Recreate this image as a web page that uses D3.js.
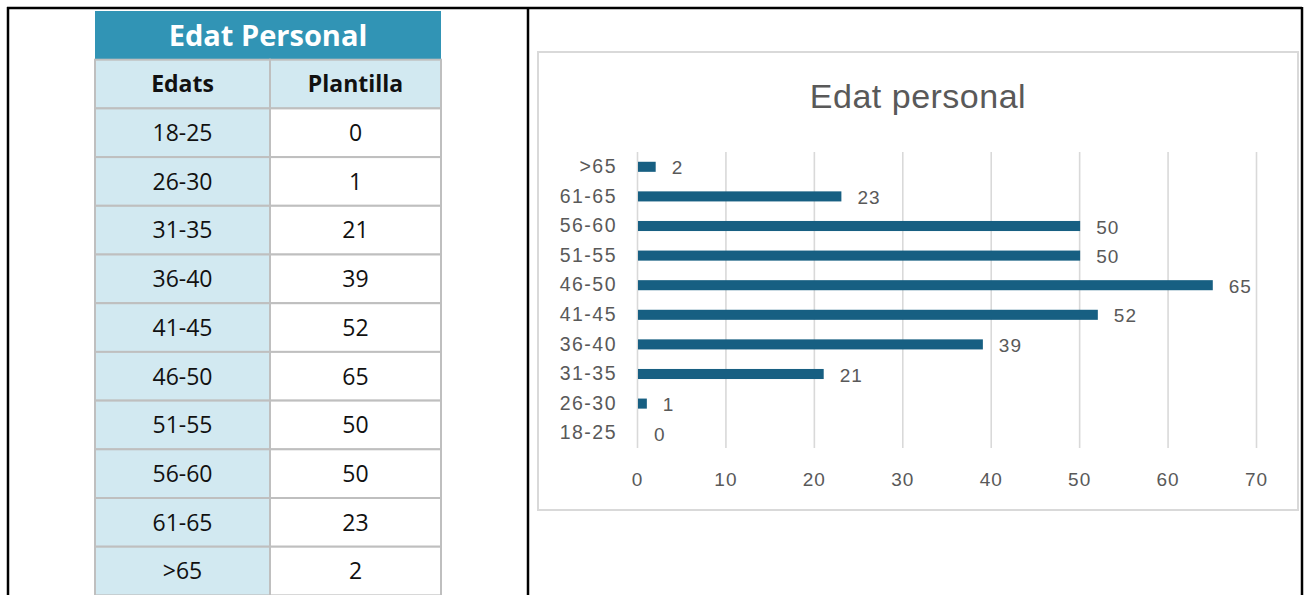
<!DOCTYPE html>
<html>
<head>
<meta charset="utf-8">
<script src="https://cdn.jsdelivr.net/npm/d3@7"></script>
<style>
  body { margin: 0; background: #fff; }
  svg { display: block; }
</style>
</head>
<body>
<div id="page"></div>
<script>
var ages = ['18-25', '26-30', '31-35', '36-40', '41-45', '46-50', '51-55', '56-60', '61-65', '>65'];
var staff = [0, 1, 21, 39, 52, 65, 50, 50, 23, 2];
var xTicks = [0, 10, 20, 30, 40, 50, 60, 70];
var tableTitle = 'Edat Personal';
var tableHeads = ['Edats', 'Plantilla'];
var chartTitle = 'Edat personal';

var width = 1306, height = 595;
var svg = d3.select('#page').append('svg')
  .attr('width', width)
  .attr('height', height);

// outer frame of the two cells
var frame = svg.append('g')
  .attr('fill', 'none')
  .attr('stroke', '#000')
  .attr('stroke-width', 2.5);
frame.append('line').attr('x1', 7).attr('x2', 1302).attr('y1', 8).attr('y2', 8);
frame.append('line').attr('x1', 8).attr('x2', 8).attr('y1', 7).attr('y2', 595);
frame.append('line').attr('x1', 528).attr('x2', 528).attr('y1', 7).attr('y2', 595);
frame.append('line').attr('x1', 1302).attr('x2', 1302).attr('y1', 7).attr('y2', 595);

// ---- table ----
var tbl = svg.append('g').attr('font-family', '"Open Sans", "Noto Sans", sans-serif');
var tLeft = 95, tMid = 270, tRight = 441, tTop = 11, rowH = 48.7;
var lightBlue = '#d2e9f1', border = '#bfbfbf';

tbl.append('rect')
  .attr('x', tLeft).attr('y', tTop)
  .attr('width', tRight - tLeft).attr('height', rowH)
  .attr('fill', '#3194b5');
tbl.append('text')
  .attr('x', (tLeft + tRight) / 2).attr('y', tTop + rowH / 2)
  .attr('dy', '0.36em')
  .attr('text-anchor', 'middle')
  .attr('fill', '#fff')
  .attr('font-size', 29)
  .attr('font-weight', 700)
  .text(tableTitle);

var rows = [tableHeads].concat(ages.map(function (a, i) { return [a, String(staff[i])]; }));
var rowG = tbl.selectAll('g.row')
  .data(rows)
  .enter().append('g')
  .attr('class', 'row')
  .attr('transform', function (d, i) { return 'translate(0,' + (tTop + rowH * (i + 1)) + ')'; });

rowG.append('rect')
  .attr('x', tLeft).attr('width', tMid - tLeft).attr('height', rowH)
  .attr('fill', lightBlue).attr('stroke', border).attr('stroke-width', 2);
rowG.append('rect')
  .attr('x', tMid).attr('width', tRight - tMid).attr('height', rowH)
  .attr('fill', function (d, i) { return i === 0 ? lightBlue : '#fff'; })
  .attr('stroke', border).attr('stroke-width', 2);

rowG.append('text')
  .attr('x', (tLeft + tMid) / 2).attr('y', rowH / 2).attr('dy', '0.36em')
  .attr('text-anchor', 'middle')
  .attr('font-size', 23)
  .attr('font-weight', function (d, i) { return i === 0 ? 700 : 400; })
  .attr('fill', '#111')
  .text(function (d) { return d[0]; });
rowG.append('text')
  .attr('x', (tMid + tRight) / 2).attr('y', rowH / 2).attr('dy', '0.36em')
  .attr('text-anchor', 'middle')
  .attr('font-size', 23)
  .attr('font-weight', function (d, i) { return i === 0 ? 700 : 400; })
  .attr('fill', '#111')
  .text(function (d) { return d[1]; });

// ---- chart ----
var chartFont = '"Liberation Sans", Arial, sans-serif';
var chart = svg.append('g').attr('font-family', chartFont);
chart.append('rect')
  .attr('x', 538).attr('y', 52).attr('width', 760).attr('height', 458)
  .attr('fill', '#fff').attr('stroke', '#d9d9d9').attr('stroke-width', 2);

chart.append('text')
  .attr('x', 918).attr('y', 108)
  .attr('text-anchor', 'middle')
  .attr('font-size', 34)
  .attr('letter-spacing', 0.5)
  .attr('fill', '#595959')
  .text(chartTitle);

var x = d3.scaleLinear().domain([0, 70]).range([637, 1256]);
var y = d3.scaleBand().domain(ages.slice().reverse()).range([152, 448]).paddingInner(0.66).paddingOuter(0.33);

var xAxis = chart.append('g')
  .attr('transform', 'translate(0,448)')
  .call(d3.axisBottom(x).tickValues(xTicks).tickSize(-296).tickPadding(25));
xAxis.select('.domain').remove();
xAxis.selectAll('.tick line').attr('stroke', '#d9d9d9').attr('stroke-width', 1.6);
xAxis.selectAll('.tick text')
  .attr('font-size', 19).attr('fill', '#595959')
  .attr('letter-spacing', 1)
  .attr('font-family', chartFont);

var yAxis = chart.append('g')
  .attr('transform', 'translate(617,0)')
  .call(d3.axisLeft(y).tickSize(0).tickPadding(0));
yAxis.select('.domain').remove();
yAxis.selectAll('.tick text')
  .attr('font-size', 19.5).attr('fill', '#595959')
  .attr('letter-spacing', 1.5)
  .attr('font-family', chartFont);

chart.selectAll('rect.bar')
  .data(ages)
  .enter().append('rect')
  .attr('class', 'bar')
  .attr('x', x(0) + 1)
  .attr('y', function (d) { return y(d); })
  .attr('width', function (d, i) { return Math.max(0, x(staff[i]) - x(0)); })
  .attr('height', y.bandwidth())
  .attr('fill', '#175f82');

chart.selectAll('text.val')
  .data(ages)
  .enter().append('text')
  .attr('class', 'val')
  .attr('x', function (d, i) { return x(staff[i]) + 17; })
  .attr('y', function (d) { return y(d) + y.bandwidth() / 2; })
  .attr('dy', '0.4em')
  .attr('font-size', 19)
  .attr('letter-spacing', 1)
  .attr('fill', '#595959')
  .text(function (d, i) { return staff[i]; });
</script>
</body>
</html>
